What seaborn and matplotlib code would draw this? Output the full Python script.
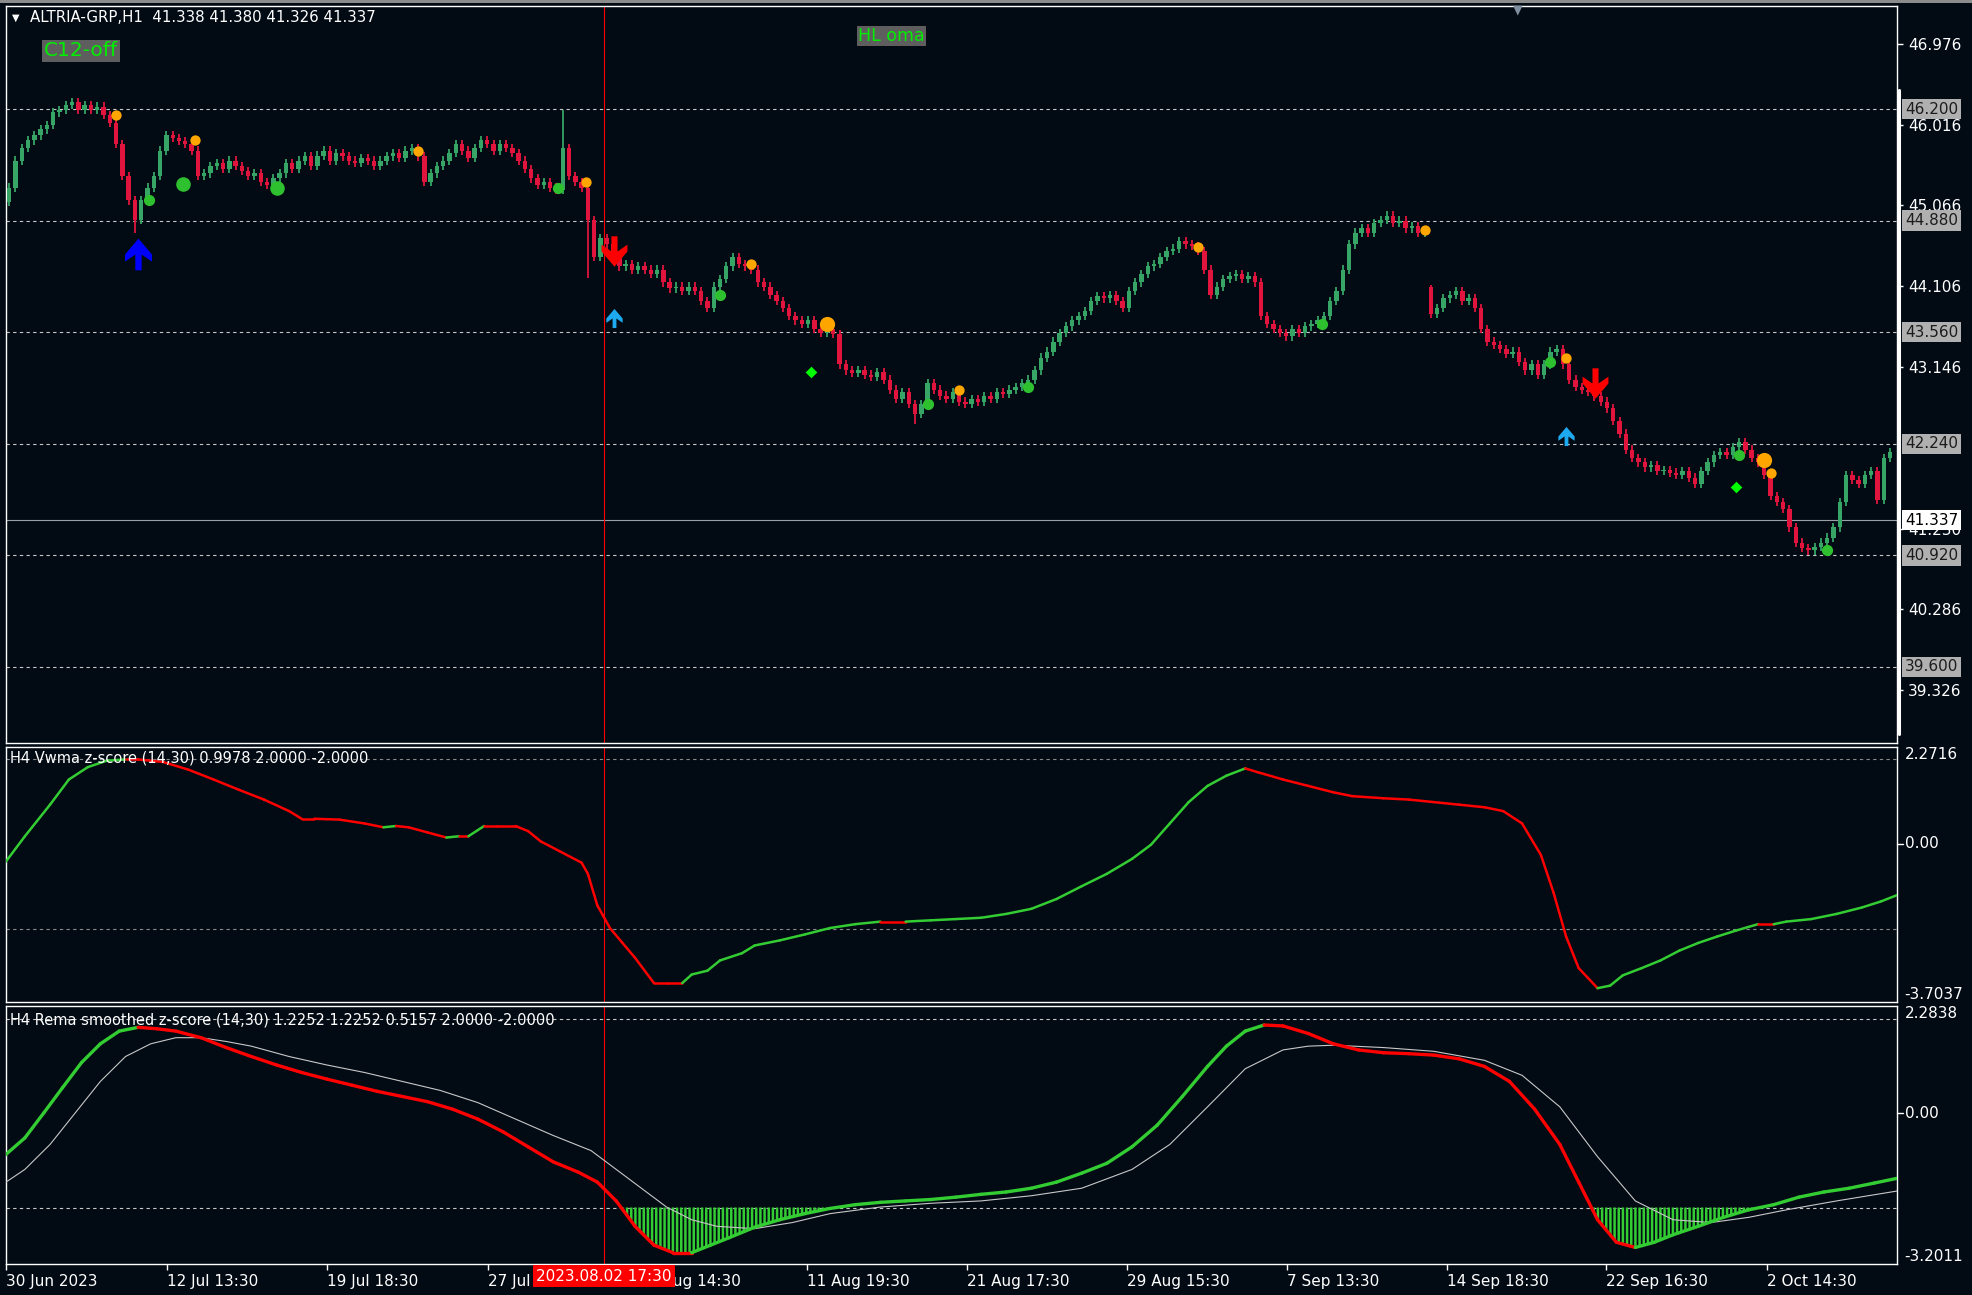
import numpy as np
import pandas as pd
import matplotlib
matplotlib.use("Agg")
import matplotlib.pyplot as plt
import seaborn as sns
import matplotlib.transforms as mtransforms
from matplotlib.collections import LineCollection
from matplotlib.path import Path
from matplotlib.patches import Rectangle

# ---- price data (H1 closes, bar by bar) ----
close_a = [45.27, 45.59, 45.74, 45.83, 45.89, 45.96, 46.01, 46.16, 46.19, 46.25,
           46.28, 46.19, 46.25, 46.19, 46.23, 46.13, 46.04, 45.79, 45.41, 45.12]
close_b = [44.89, 45.12, 45.27, 45.41, 45.71, 45.89, 45.86, 45.82, 45.79, 45.71,
           45.41, 45.44, 45.53, 45.56, 45.49, 45.59, 45.53, 45.47, 45.41, 45.44]
close_c = [45.34, 45.30, 45.38, 45.44, 45.56, 45.49, 45.59, 45.64, 45.53, 45.65,
           45.71, 45.59, 45.68, 45.64, 45.59, 45.56, 45.62, 45.59, 45.53, 45.59]
close_d = [45.64, 45.68, 45.62, 45.71, 45.74, 45.64, 45.34, 45.44, 45.53, 45.59,
           45.68, 45.79, 45.71, 45.62, 45.74, 45.83, 45.79, 45.71, 45.79, 45.74]
close_e = [45.68, 45.59, 45.49, 45.38, 45.30, 45.34, 45.27, 45.24, 45.74, 45.41,
           45.34, 45.27, 44.89, 44.45, 44.67, 44.60, 44.45, 44.34, 44.37, 44.30]
close_f = [44.34, 44.30, 44.25, 44.30, 44.15, 44.08, 44.10, 44.05, 44.10, 44.05,
           43.93, 43.85, 44.10, 44.19, 44.34, 44.45, 44.37, 44.34, 44.30, 44.15]
close_g = [44.10, 44.00, 43.93, 43.85, 43.75, 43.70, 43.66, 43.70, 43.60, 43.55,
           43.60, 43.54, 43.18, 43.11, 43.08, 43.11, 43.06, 43.03, 43.09, 43.00]
close_h = [42.88, 42.77, 42.85, 42.71, 42.59, 42.71, 42.96, 42.88, 42.81, 42.77,
           42.85, 42.74, 42.71, 42.77, 42.74, 42.80, 42.77, 42.85, 42.83, 42.88]
close_i = [42.91, 42.96, 43.00, 43.11, 43.26, 43.33, 43.45, 43.55, 43.63, 43.70,
           43.75, 43.81, 43.93, 43.99, 43.96, 44.00, 43.93, 43.85, 44.05, 44.15]
close_j = [44.25, 44.34, 44.37, 44.45, 44.52, 44.55, 44.64, 44.60, 44.58, 44.52,
           44.30, 44.00, 44.10, 44.19, 44.22, 44.25, 44.19, 44.22, 44.15, 43.75]
close_k = [43.66, 43.60, 43.55, 43.51, 43.60, 43.55, 43.63, 43.66, 43.70, 43.75,
           43.93, 44.05, 44.30, 44.60, 44.74, 44.79, 44.74, 44.85, 44.89, 44.94]
close_l = [44.85, 44.88, 44.79, 44.82, 44.74, 44.77, 43.78, 43.85, 43.96, 44.00,
           44.05, 43.93, 43.96, 43.85, 43.60, 43.45, 43.41, 43.36, 43.30, 43.33]
close_m = [43.21, 43.11, 43.18, 43.06, 43.18, 43.33, 43.36, 43.18, 43.00, 42.91,
           42.88, 42.85, 42.80, 42.74, 42.66, 42.51, 42.36, 42.17, 42.07, 42.02]
close_n = [41.96, 41.99, 41.92, 41.93, 41.90, 41.87, 41.92, 41.84, 41.77, 41.92,
           42.02, 42.11, 42.14, 42.11, 42.20, 42.26, 42.17, 42.07, 42.02, 41.87]
close_o = [41.62, 41.55, 41.47, 41.25, 41.07, 41.01, 40.98, 41.02, 41.07, 41.13,
           41.25, 41.55, 41.87, 41.81, 41.77, 41.87, 41.92, 41.58, 42.07, 42.14]

first_open = 45.10
gap_opens = {226: 44.10}          # weekend gap
spike_high = {88: 46.19, 226: 44.12}
spike_low = {20: 44.74, 144: 42.47, 92: 44.20}

# price levels
dashed_levels = [46.200, 44.880, 43.560, 42.240, 40.920, 39.600]
bid_price = 41.337
price_ticks = [46.976, 46.016, 45.066, 44.106, 43.146, 41.230, 40.286, 39.326]

# signals on the price chart (bar index, price)
orange_bar = [17, 29.5, 65, 91.7, 118, 151, 189, 225, 247.5, 280]
orange_px = [46.13, 45.83, 45.71, 45.34, 44.37, 42.88, 44.57, 44.77, 43.26, 41.90]
orange_big_bar = [130, 279]
orange_big_px = [43.66, 42.05]
green_bar = [22.3, 87.3, 113, 146, 162, 208.7, 245, 275, 289]
green_px = [45.12, 45.27, 44.00, 42.71, 42.91, 43.66, 43.21, 42.11, 40.98]
green_big_bar = [27.7, 42.5]
green_big_px = [45.31, 45.27]
diamond_bar = [127.5, 274.5]
diamond_px = [43.09, 41.73]
blue_up_bar, blue_up_px = [20.5], [44.48]
red_dn_bar, red_dn_px = [96.1, 252.1], [44.52, 42.96]
cyan_up_bar, cyan_up_px = [96.1, 247.5], [43.73, 42.33]

# ---- H4 Vwma z-score ----
vw_bar = [-0.5, 2.5, 6.5, 9.5, 12.5, 15.5, 18.5, 20.5, 24.5, 28.5, 32.5, 36.5, 40.5,
          44.5, 46.5, 48.5, 52.5, 56.5, 59.5, 61.5, 63.5, 66.5, 69.5, 71.5, 73, 75.5,
          77.5, 80.5, 82.5, 84.5, 87.5, 91, 92, 93.5, 95.5, 97.5, 99.5, 102.5, 104.5,
          107, 108.5, 111, 113, 116.5, 118.5, 122.5, 126.5, 130.5, 134.5, 138.5,
          142.5, 146.5, 150.5, 154.5, 158.5, 162.5, 166.5, 170.5, 174.5, 178.5,
          181.5, 184.5, 187.5, 190.5, 193.5, 196.5, 198.5, 202.5, 206.5, 210.5,
          213.5, 218.5, 222.5, 226.5, 230.5, 234.5, 237.5, 240.5, 243.5, 245.5,
          247.5, 249.5, 252.5, 254.5, 256.5, 259.5, 262.5, 265.5, 268.5, 271.5,
          274.5, 278, 280.5, 282.5, 286.5, 290.5, 294.5, 297.5, 300.1]
vw_val = [-0.41, 0.18, 0.92, 1.51, 1.80, 1.95, 1.98, 1.98, 1.92, 1.74, 1.51, 1.27, 1.04,
          0.77, 0.59, 0.59, 0.57, 0.48, 0.39, 0.42, 0.39, 0.27, 0.15, 0.18, 0.18, 0.42,
          0.42, 0.42, 0.30, 0.06, -0.17, -0.44, -0.70, -1.44, -1.97, -2.32, -2.67,
          -3.26, -3.26, -3.26, -3.06, -2.97, -2.73, -2.56, -2.38, -2.26, -2.12, -1.97,
          -1.88, -1.82, -1.82, -1.79, -1.76, -1.73, -1.64, -1.52, -1.29, -0.99, -0.70,
          -0.35, -0.02, 0.48, 0.98, 1.36, 1.60, 1.77, 1.68, 1.51, 1.36, 1.21, 1.12,
          1.07, 1.04, 0.98, 0.92, 0.86, 0.77, 0.48, -0.26, -1.14, -2.17, -2.91, -3.38,
          -3.32, -3.08, -2.91, -2.73, -2.50, -2.32, -2.17, -2.03, -1.88, -1.88, -1.82,
          -1.76, -1.64, -1.49, -1.35, -1.20]
vw_lim = (-3.7037, 2.2716)

# ---- H4 Rema smoothed z-score ----
rm_bar = [-0.5, 2.5, 5.5, 8.5, 11.5, 14.5, 17.5, 20.5, 23.5, 26.5, 30.5, 34.5, 38.5,
          42.5, 46.5, 50.5, 54.5, 58.5, 62.5, 66.5, 70.5, 74.5, 78.5, 82.5, 86.5,
          90.5, 93.5, 96.5, 99.5, 102.5, 105.5, 108.5, 111.5, 114.5, 118.5, 122.5,
          126.5, 130.5, 134.5, 138.5, 142.5, 146.5, 150.5, 154.5, 158.5, 162.5,
          166.5, 170.5, 174.5, 178.5, 182.5, 186.5, 190.5, 193.5, 196.5, 199.5,
          202.5, 206.5, 210.5, 214.5, 218.5, 222.5, 226.5, 230.5, 234.5, 238.5,
          242.5, 246.5, 249.5, 252.5, 255.5, 258.5, 261.5, 264.5, 268.5, 272.5,
          276.5, 280.5, 284.5, 288.5, 292.5, 296.5, 300.1]
rm_val = [-0.87, -0.52, 0.01, 0.55, 1.08, 1.48, 1.75, 1.83, 1.80, 1.75, 1.61, 1.40, 1.21,
          1.03, 0.87, 0.73, 0.60, 0.47, 0.36, 0.25, 0.09, -0.12, -0.39, -0.71, -1.03,
          -1.25, -1.46, -1.86, -2.40, -2.80, -2.96, -2.96, -2.80, -2.64, -2.42, -2.26,
          -2.13, -2.02, -1.94, -1.89, -1.86, -1.83, -1.78, -1.72, -1.67, -1.59, -1.46,
          -1.27, -1.06, -0.71, -0.25, 0.36, 1.00, 1.43, 1.75, 1.88, 1.86, 1.70, 1.48,
          1.35, 1.29, 1.27, 1.24, 1.16, 1.00, 0.68, 0.09, -0.66, -1.46, -2.26, -2.74,
          -2.85, -2.74, -2.58, -2.40, -2.21, -2.05, -1.94, -1.78, -1.67, -1.59, -1.48,
          -1.38]
sig_bar = [-0.5, 2.5, 6.5, 10.5, 14.5, 18.5, 22.5, 26.5, 30.5, 34.5, 38.5, 44.5, 50.5,
           56.5, 62.5, 68.5, 74.5, 80.5, 86.5, 92.5, 96.5, 100.5, 104.5, 108.5, 112.5,
           118.5, 124.5, 130.5, 138.5, 146.5, 154.5, 162.5, 170.5, 178.5, 184.5,
           190.5, 196.5, 202.5, 206.5, 210.5, 218.5, 226.5, 234.5, 240.5, 246.5,
           252.5, 258.5, 264.5, 270.5, 276.5, 282.5, 290.5, 300.1]
sig_val = [-1.46, -1.19, -0.66, 0.01, 0.68, 1.21, 1.48, 1.61, 1.61, 1.53, 1.43, 1.21,
           1.03, 0.87, 0.68, 0.49, 0.23, -0.12, -0.47, -0.79, -1.19, -1.59, -1.99, -2.26,
           -2.40, -2.45, -2.32, -2.13, -1.99, -1.91, -1.86, -1.75, -1.59, -1.19, -0.66,
           0.14, 0.95, 1.35, 1.43, 1.45, 1.40, 1.32, 1.13, 0.81, 0.14, -0.92, -1.86,
           -2.26, -2.32, -2.21, -2.05, -1.86, -1.65]
rm_lim = (-3.2011, 2.2838)

# time axis
tick_bars = [-0.5, 25.1, 50.5, 76.1, 101.5, 126.9, 152.3, 177.7, 203.1, 228.5, 253.9, 279.5]
tick_labels = ['30 Jun 2023', '12 Jul 13:30', '19 Jul 18:30', '27 Jul', '4 Aug 14:30',
               '11 Aug 19:30', '21 Aug 17:30', '29 Aug 15:30', '7 Sep 13:30',
               '14 Sep 18:30', '22 Sep 16:30', '2 Oct 14:30']
cursor_bar = 94.5
cursor_label = '2023.08.02 17:30'

# ---- build candle table ----
closes = (close_a + close_b + close_c + close_d + close_e + close_f + close_g + close_h
          + close_i + close_j + close_k + close_l + close_m + close_n + close_o)
opens = [first_open] + closes[:-1]
for k, v in gap_opens.items():
    opens[k] = v
df = pd.DataFrame({'bar': np.arange(len(closes)), 'open': opens, 'close': closes})
df['top'] = df[['open', 'close']].max(axis=1)
df['bot'] = df[['open', 'close']].min(axis=1)
df['high'] = df['top'] + 0.05
df['low'] = df['bot'] - 0.05
for k, v in spike_high.items():
    df.loc[k, 'high'] = v
for k, v in spike_low.items():
    df.loc[k, 'low'] = v
df['up'] = df['close'] >= df['open']

# ---- style ----
BG = '#020a14'
FG = '#ffffff'
BULL = '#36a565'
BEAR = '#e0143c'
ZGREEN = '#33cc33'
ZRED = '#ff0000'
FS = 11

sns.set_theme(style='dark', rc={'axes.facecolor': BG, 'figure.facecolor': BG,
                                'axes.edgecolor': FG, 'text.color': FG,
                                'xtick.color': FG, 'ytick.color': FG})
plt.rcParams['font.family'] = ['DejaVu Sans']
plt.rcParams['hatch.linewidth'] = 1.8

W, H = 1972, 1295
fig = plt.figure(figsize=(W / 100, H / 100), dpi=100, facecolor=BG)


def add_panel(top, bottom):
    ax = fig.add_axes([6 / W, 1 - bottom / H, (1897 - 6) / W, (bottom - top) / H])
    ax.set_facecolor(BG)
    for s in ax.spines.values():
        s.set_color(FG)
        s.set_linewidth(1.0)
    ax.grid(False)
    ax.set_xlim(-0.5, 300.1)
    ax.tick_params(axis='y', which='both', left=False, right=False, labelleft=False)
    ax.tick_params(axis='x', which='both', bottom=False, labelbottom=False)
    return ax


ax1 = add_panel(6, 743)
ax2 = add_panel(747, 1002)
ax3 = add_panel(1006, 1264)

# ---- price panel ----
ax1.set_ylim(38.70, 47.42)
for lv in dashed_levels:
    ax1.axhline(lv, color='#c8c8c8', lw=0.8, dashes=(3, 3), zorder=1)
ax1.axhline(bid_price, color='#9aa0a8', lw=0.8, zorder=1)

cols = np.where(df['up'], BULL, BEAR)
ax1.vlines(df['bar'], df['low'], df['high'], colors=cols, lw=1.3, zorder=2)
ax1.bar(df['bar'], (df['top'] - df['bot']).clip(lower=0.012), bottom=df['bot'],
        width=0.7, color=cols, linewidth=0, zorder=3)

sns.scatterplot(x=orange_bar, y=orange_px, ax=ax1, color='#ffa500', s=55, linewidth=0, zorder=5)
sns.scatterplot(x=orange_big_bar, y=orange_big_px, ax=ax1, color='#ffa500', s=120, linewidth=0, zorder=5)
sns.scatterplot(x=green_bar, y=green_px, ax=ax1, color='#2fc02f', s=65, linewidth=0, zorder=5)
sns.scatterplot(x=green_big_bar, y=green_big_px, ax=ax1, color='#2fc02f', s=110, linewidth=0, zorder=5)
sns.scatterplot(x=diamond_bar, y=diamond_px, ax=ax1, color='#00ff00', s=35, marker='D',
                linewidth=0, zorder=5)

# chevron arrows (down shape, the up one is mirrored)
dn_arrow = Path([(-0.2, 1), (0.2, 1), (0.2, 0.0), (0.85, 0.45), (0.85, 0.0), (0, -1),
                 (-0.85, 0.0), (-0.85, 0.45), (-0.2, 0.0), (-0.2, 1)], closed=True)
up_arrow = Path([(x, -y) for x, y in dn_arrow.vertices], closed=True)
ax1.scatter(blue_up_bar, blue_up_px, marker=up_arrow, s=520, color='#0000ff', linewidth=0, zorder=6)
ax1.scatter(red_dn_bar, red_dn_px, marker=dn_arrow, s=480, color='#ff0000', linewidth=0, zorder=6)
ax1.scatter(cyan_up_bar, cyan_up_px, marker=up_arrow, s=190, color='#1eaaf0', linewidth=0, zorder=6)

# right price scale
ax1.yaxis.tick_right()
ax1.set_yticks(price_ticks)
ax1.set_yticklabels([f'{v:.3f}' for v in price_ticks])
ax1.tick_params(axis='y', right=True, labelright=True, length=4, width=1, color=FG,
                labelsize=FS, pad=4, labelcolor=FG)
tr1 = mtransforms.blended_transform_factory(ax1.transAxes, ax1.transData)
for lv in dashed_levels:
    ax1.text(1.0042, lv, f'{lv:.3f}', transform=tr1, ha='left', va='center', fontsize=FS,
             color='#1c1c1c', clip_on=False, zorder=10,
             bbox=dict(boxstyle='square,pad=0.18', fc='#b0b0b0', ec='none'))
ax1.text(1.0042, bid_price, f'{bid_price:.3f}', transform=tr1, ha='left', va='center',
         fontsize=FS, color='#000000', clip_on=False, zorder=10,
         bbox=dict(boxstyle='square,pad=0.18', fc='#ffffff', ec='none'))

# ---- Vwma z-score panel ----
ax2.set_ylim(*vw_lim)
for lv in (2.0, -2.0):
    ax2.axhline(lv, color='#8a8a8a', lw=0.8, dashes=(3, 3), zorder=1)
pts = np.column_stack([vw_bar, vw_val])
segs = np.stack([pts[:-1], pts[1:]], axis=1)
seg_cols = [ZGREEN if b > a else ZRED for a, b in zip(vw_val[:-1], vw_val[1:])]
ax2.add_collection(LineCollection(segs, colors=seg_cols, linewidths=1.8,
                                  capstyle='round', zorder=4))

# ---- Rema smoothed z-score panel ----
ax3.set_ylim(*rm_lim)
for lv in (2.0, -2.0):
    ax3.axhline(lv, color='#c8c8c8', lw=0.8, dashes=(3, 3), zorder=1)
rv = np.array(rm_val)
ax3.fill_between(rm_bar, rv, -2.0, where=rv < -2.0, interpolate=True, facecolor='none',
                 edgecolor=ZGREEN, hatch='||||', linewidth=0, zorder=2)
sns.lineplot(x=sig_bar, y=sig_val, ax=ax3, color='#c8c8c8', linewidth=0.8,
             estimator=None, sort=False, zorder=3)
pts = np.column_stack([rm_bar, rm_val])
segs = np.stack([pts[:-1], pts[1:]], axis=1)
seg_cols = [ZGREEN if b > a else ZRED for a, b in zip(rm_val[:-1], rm_val[1:])]
ax3.add_collection(LineCollection(segs, colors=seg_cols, linewidths=2.4,
                                  capstyle='round', zorder=4))
ax3.set_xlabel('')
ax3.set_ylabel('')

# indicator scales
for ax, lim in ((ax2, vw_lim), (ax3, rm_lim)):
    tr = mtransforms.blended_transform_factory(ax.transAxes, ax.transData)
    ax.text(1.004, lim[1], f'{lim[1]:.4f}', transform=tr, ha='left', va='top',
            fontsize=FS, color=FG, clip_on=False)
    ax.text(1.004, 0.0, '0.00', transform=tr, ha='left', va='center',
            fontsize=FS, color=FG, clip_on=False)
    ax.text(1.004, lim[0], f'{lim[0]:.4f}', transform=tr, ha='left', va='bottom',
            fontsize=FS, color=FG, clip_on=False)
    ax.plot([1.0, 1.003], [0.0, 0.0], transform=tr, color=FG, lw=1, clip_on=False)

# cursor line across all panels
for ax in (ax1, ax2, ax3):
    ax.axvline(cursor_bar, color='#ff0000', lw=0.8, zorder=1.5)

# time axis
ax3.set_xticks(tick_bars)
ax3.set_xticklabels(tick_labels, ha='left')
ax3.tick_params(axis='x', bottom=True, labelbottom=True, length=4, width=1, color=FG,
                labelsize=FS, pad=3, labelcolor=FG)
trx = mtransforms.blended_transform_factory(ax3.transData, ax3.transAxes)
ax3.text(cursor_bar, -0.018, cursor_label, transform=trx, ha='center', va='top',
         fontsize=FS, color=FG, clip_on=False, zorder=20,
         bbox=dict(boxstyle='square,pad=0.22', fc='#ff0000', ec='none'))

# ---- titles and chart objects ----
fig.text(12 / W, 1 - 18 / H, '\u25bc', fontsize=7, color=FG, va='center')
fig.text(30 / W, 1 - 18 / H, 'ALTRIA-GRP,H1  41.338 41.380 41.326 41.337',
         fontsize=10.8, color=FG, va='center')
fig.text(10 / W, 1 - 758 / H, 'H4 Vwma z-score (14,30) 0.9978 2.0000 -2.0000',
         fontsize=10.5, color=FG, va='center', zorder=1)
fig.text(10 / W, 1 - 1020 / H,
         'H4 Rema smoothed z-score (14,30) 1.2252 1.2252 0.5157 2.0000 -2.0000',
         fontsize=10.5, color=FG, va='center', zorder=1)
fig.text(44 / W, 1 - 51 / H, 'C12-off', fontsize=14.5, color='#00ee00', va='center',
         bbox=dict(boxstyle='square,pad=0.08', fc='#5e5e5e', ec='none'))
fig.text(858 / W, 1 - 36 / H, 'HL oma', fontsize=12.5, color='#00ee00', va='center',
         bbox=dict(boxstyle='square,pad=0.08', fc='#5e5e5e', ec='none'))

# frame bits
fig.patches.append(Rectangle((0, 1 - 3 / H), 1, 3 / H, transform=fig.transFigure,
                             fc='#8c8c8c', ec='none'))
fig.text(1518 / W, 1 - 10 / H, '\u25bc', fontsize=9, color='#7f8fa0', ha='center', va='center')
fig.add_artist(plt.Line2D([1898.5 / W, 1898.5 / W], [1 - 90 / H, 1 - 734 / H],
                          transform=fig.transFigure, color=FG, lw=2.2))

fig.savefig('out.png', dpi=100, facecolor=BG)
